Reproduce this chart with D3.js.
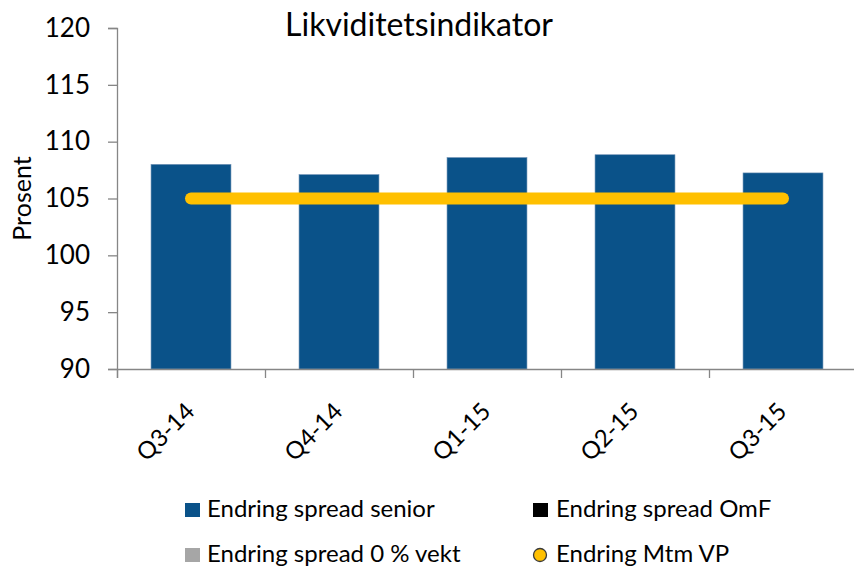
<!DOCTYPE html>
<html>
<head>
<meta charset="utf-8">
<script src="https://cdn.jsdelivr.net/npm/d3@7"></script>
<style>
  body { margin: 0; background: #fff; }
  text { font-family: Lato, "Open Sans", sans-serif; fill: #000; }
</style>
</head>
<body>
<script>
// data
let categories = ['Q3-14', 'Q4-14', 'Q1-15', 'Q2-15', 'Q3-15'];
let seniorValues = [108.0, 107.1, 108.6, 108.85, 107.25];
let mtmValues = [105, 105, 105, 105, 105];
let yTicks = [90, 95, 100, 105, 110, 115, 120];
let legendLabels = ['Endring spread senior', 'Endring spread OmF', 'Endring spread 0 % vekt', 'Endring Mtm VP'];

let frame = { width: 854, height: 567 };
let padding = { left: 117, top: 28, right: -3, bottom: 198 };
let innerW = frame.width - padding.left - padding.right;
let innerH = frame.height - padding.top - padding.bottom;

let svg = d3.select('body')
	.append('svg')
	.attr('width', frame.width)
	.attr('height', frame.height);

let g = svg.append('g')
	.attr('transform', `translate(${padding.left}, ${padding.top})`);

let xScale = d3.scaleBand()
	.domain(categories)
	.range([0, innerW])
	.paddingInner(0.46)
	.paddingOuter(0.23);

let yScale = d3.scaleLinear()
	.domain([90, 120])
	.range([innerH, 0]);

// bars
g.selectAll('.bar')
	.data(seniorValues)
	.enter()
	.append('rect')
	.attr('class', 'bar')
	.attr('x', (d, i) => xScale(categories[i]))
	.attr('y', d => yScale(d))
	.attr('width', xScale.bandwidth())
	.attr('height', d => innerH - yScale(d))
	.attr('fill', '#0A5289')
	.attr('stroke', '#6d8fb3')
	.attr('stroke-width', 0.6);

// y axis
let yAxis = g.append('g')
	.call(d3.axisLeft(yScale).tickValues(yTicks).tickSize(9).tickPadding(18));

// x axis: ticks between categories
let xAxis = g.append('g')
	.attr('transform', `translate(0, ${innerH})`)
	.call(d3.axisBottom(d3.scaleLinear().domain([0, categories.length]).range([0, innerW]))
		.ticks(categories.length).tickSize(9).tickFormat(''));

g.selectAll('.domain, .tick line').attr('stroke', '#868686').attr('stroke-width', 1.3);
yAxis.selectAll('text').attr('font-size', 26).attr('fill', '#000');

// x labels
g.selectAll('.xlabel')
	.data(categories)
	.enter()
	.append('text')
	.attr('class', 'xlabel')
	.attr('transform', d => `translate(${xScale(d) + xScale.bandwidth() / 2 + 5}, ${innerH + 44}) rotate(-45)`)
	.attr('text-anchor', 'end')
	.attr('font-size', 24)
	.text(d => d);

// line
let line = d3.line()
	.x((d, i) => xScale(categories[i]) + xScale.bandwidth() / 2)
	.y(d => yScale(d));

g.append('path')
	.datum(mtmValues)
	.attr('d', line)
	.attr('fill', 'none')
	.attr('stroke', '#FFC000')
	.attr('stroke-width', 12)
	.attr('stroke-linecap', 'round');

// title
svg.append('text')
	.attr('x', 419)
	.attr('y', 36)
	.attr('text-anchor', 'middle')
	.attr('font-size', 32)
	.text('Likviditetsindikator');

// y label
svg.append('text')
	.attr('transform', `translate(31, ${padding.top + innerH / 2}) rotate(-90)`)
	.attr('text-anchor', 'middle')
	.attr('font-size', 25)
	.text('Prosent');

// legend
let legendPos = [[185, 517], [533, 517], [185, 562], [533, 562]];
let legendColors = ['#0A5289', '#000000', '#A6A6A6', '#FFC000'];
let legend = svg.selectAll('.legend')
	.data(legendLabels)
	.enter()
	.append('g')
	.attr('class', 'legend')
	.attr('transform', (d, i) => `translate(${legendPos[i][0]}, ${legendPos[i][1]})`);

legend.each(function (d, i) {
	let el = d3.select(this);
	if (i === 3) {
		el.append('circle')
			.attr('cx', 7).attr('cy', -7).attr('r', 6.5)
			.attr('fill', legendColors[i])
			.attr('stroke', '#3a3a3a').attr('stroke-width', 1.3);
	} else {
		el.append('rect')
			.attr('x', 0).attr('y', -14).attr('width', 15).attr('height', 14)
			.attr('fill', legendColors[i]);
	}
	el.append('text')
		.attr('x', i % 2 === 0 ? 22 : 23)
		.attr('y', 0)
		.attr('font-size', 24)
		.text(d);
});
</script>
</body>
</html>
